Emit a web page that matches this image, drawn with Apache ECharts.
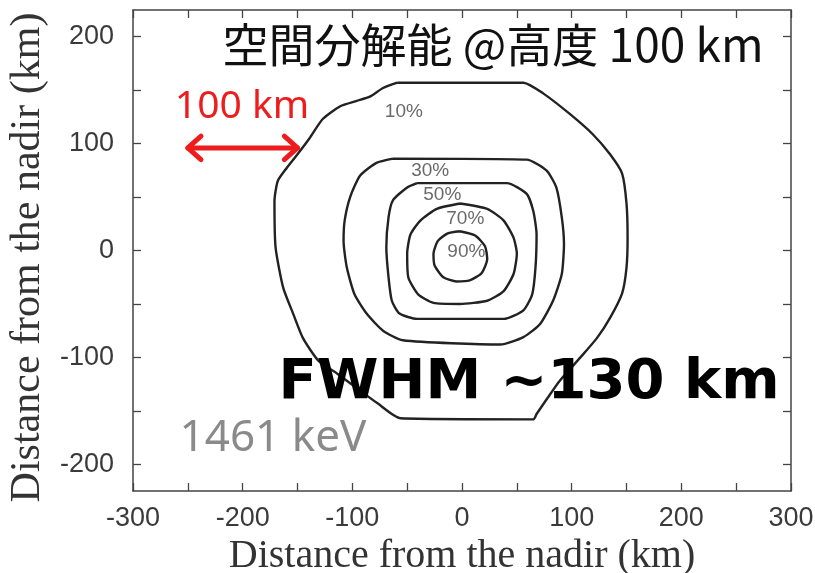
<!DOCTYPE html>
<html>
<head>
<meta charset="utf-8">
<script src="https://cdn.jsdelivr.net/npm/echarts@6/dist/echarts.min.js"></script>
<style>
  html, body { margin: 0; padding: 0; background: #fff; }
  #chart { width: 815px; height: 573px; }
</style>
</head>
<body>
<div id="chart"></div>
<script>
// Response contours (km from nadir), one closed ring per level
const c10 = [[-59,157],[-72,152],[-84,144],[-96,140],[-111,135],[-127,123],[-139,105],[-150,90],[-160,77],[-168,65],[-171,46],[-170,3],[-163,-35],[-154,-59],[-145,-82],[-131,-103],[-114,-115],[-93,-131],[-77,-143],[-56,-157],[65,-158],[68,-153],[78,-138],[89,-122],[108,-100],[123,-82],[135,-63],[146,-40],[150,-16],[151,12],[150,44],[146,72],[135,90],[119,109],[98,128],[74,147],[56,157]];
const c30 = [[-63,86],[-78,82],[-93,70],[-102,50],[-107,28],[-108,9],[-105,-16],[-98,-41],[-87,-59],[-72,-75],[-54,-84],[35,-88],[56,-81],[71,-69],[83,-47],[91,-22],[93,6],[91,31],[86,59],[77,75],[59,85]];
const c50 = [[-41,63],[-50,59],[-63,47],[-67,31],[-69,3],[-67,-25],[-64,-47],[-57,-59],[-41,-64],[38,-64],[56,-56],[64,-41],[67,-16],[68,15],[65,37],[59,53],[41,63]];
const c70 = [[-2,44],[23,39],[38,28],[47,12],[50,-3],[47,-22],[38,-38],[23,-47],[-2,-50],[-26,-49],[-40,-41],[-49,-25],[-50,-3],[-47,15],[-38,28],[-23,39]];
const c90 = [[-2,18],[12,14],[21,4],[23,-8],[18,-21],[7,-28],[-5,-29],[-17,-25],[-25,-14],[-26,-3],[-22,9],[-13,16]];

// Level labels: x, y, text
const levelLabels = [[-53,130,'10%'],[-29,75,'30%'],[-18,52,'50%'],[3,30,'70%'],[4,-1,'90%']];

// Scale bar: 100 km span
const scaleBarX = [-250, -150];
const scaleBarY = 96;

// Axis ticks and labels
const xTicks = [-300,-250,-200,-150,-100,-50,0,50,100,150,200,250,300];
const xLabels = [-300,-200,-100,0,100,200,300];
const yTicks = [-200,-150,-100,-50,0,50,100,150,200];
const yLabels = [-200,-100,0,100,200];

const chart = echarts.init(document.getElementById('chart'));

const frameLine = { show: true, onZero: false, lineStyle: { color: '#444', width: 1.5 } };
const tickStyle = (vals) => ({ show: true, inside: true, length: 8, customValues: vals, lineStyle: { color: '#444', width: 1.3 } });
const tickFont = { fontFamily: 'Liberation Sans', fontSize: 27, color: '#3a3a3a' };

function ring(pts) { return pts.concat([pts[0]]); }

const contourSeries = [c10, c30, c50, c70, c90].map(pts => ({
  type: 'line',
  data: ring(pts),
  symbol: 'none',
  smooth: 0.2,
  silent: true,
  lineStyle: { color: '#222', width: 2.4 },
  z: 3
}));

// Double-headed scale arrow built from the span values
const headLen = 12, headHalf = 11;
const arrowLines = [
  [[scaleBarX[0], scaleBarY], [scaleBarX[1], scaleBarY]],
  [[scaleBarX[0] + headLen, scaleBarY + headHalf], [scaleBarX[0], scaleBarY], [scaleBarX[0] + headLen, scaleBarY - headHalf]],
  [[scaleBarX[1] - headLen, scaleBarY + headHalf], [scaleBarX[1], scaleBarY], [scaleBarX[1] - headLen, scaleBarY - headHalf]]
].map(d => ({
  type: 'line',
  data: d,
  symbol: 'none',
  silent: true,
  lineStyle: { color: '#ee1c1c', width: 5, cap: 'round', join: 'round' },
  z: 4
}));

chart.setOption({
  animation: false,
  backgroundColor: '#fff',
  grid: { left: 133, right: 24, top: 10, bottom: 82, containLabel: false, outerBoundsMode: 'none' },
  xAxis: [{
    type: 'value', min: -300, max: 300,
    name: 'Distance from the nadir (km)', nameLocation: 'middle', nameGap: 33,
    nameTextStyle: { fontFamily: 'Liberation Serif', fontSize: 40, color: '#333' },
    axisLine: frameLine,
    axisTick: tickStyle(xTicks),
    axisLabel: Object.assign({ customValues: xLabels, margin: 14 }, tickFont),
    splitLine: { show: false }
  }, {
    type: 'value', min: -300, max: 300, position: 'top',
    axisLine: frameLine, axisTick: tickStyle(xTicks),
    axisLabel: { show: false }, splitLine: { show: false }
  }],
  yAxis: [{
    type: 'value', min: -225, max: 225,
    name: 'Distance from the nadir (km)', nameLocation: 'middle', nameGap: 74,
    nameTextStyle: { fontFamily: 'Liberation Serif', fontSize: 42, color: '#333', padding: [0, 14, 0, 0] },
    axisLine: frameLine,
    axisTick: tickStyle(yTicks),
    axisLabel: Object.assign({ customValues: yLabels, margin: 19 }, tickFont),
    splitLine: { show: false }
  }, {
    type: 'value', min: -225, max: 225, position: 'right',
    axisLine: frameLine, axisTick: tickStyle(yTicks),
    axisLabel: { show: false }, splitLine: { show: false }
  }],
  series: contourSeries.concat(arrowLines, [{
    type: 'scatter',
    data: levelLabels,
    symbolSize: 0,
    silent: true,
    z: 5,
    label: {
      show: true, position: 'inside',
      formatter: p => p.data[2],
      fontFamily: 'Liberation Sans', fontSize: 19, color: '#444'
    }
  }]),
  graphic: [
    { type: 'text', x: 493, y: 45, z: 10, style: { text: '空間分解能 @高度 100 km', font: '46px "Noto Sans CJK JP"', fill: '#111', textAlign: 'center', textVerticalAlign: 'middle' } },
    { type: 'text', x: 242, y: 107, z: 10, style: { text: '100 km', font: '39px "Noto Sans"', fill: '#ee1c1c', textAlign: 'center', textVerticalAlign: 'middle' } },
    { type: 'text', x: 529, y: 383, z: 10, style: { text: 'FWHM ~130 km', font: 'bold 56px "DejaVu Sans"', fill: '#000', textAlign: 'center', textVerticalAlign: 'middle' } },
    { type: 'text', x: 273, y: 438, z: 10, style: { text: '1461 keV', font: '44px "Noto Sans"', fill: '#8a8a8a', textAlign: 'center', textVerticalAlign: 'middle' } }
  ]
});
</script>
</body>
</html>
